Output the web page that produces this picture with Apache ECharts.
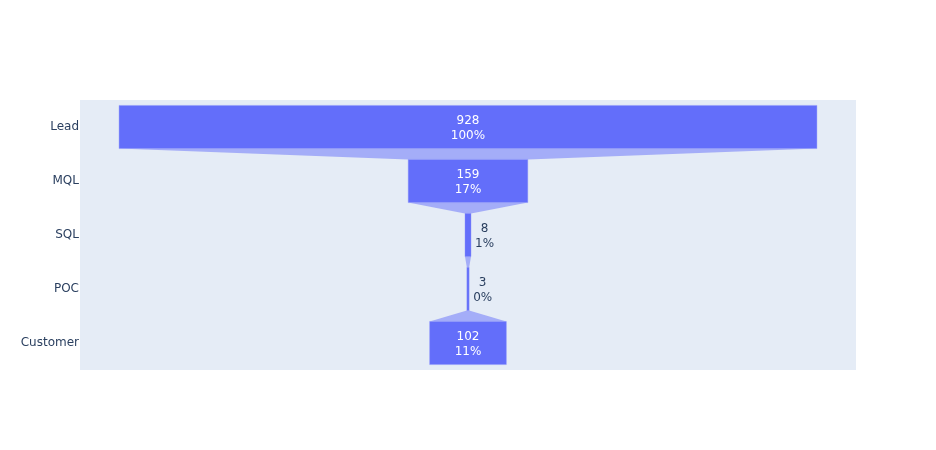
<!DOCTYPE html>
<html><head><meta charset="utf-8">
<script src="https://cdn.jsdelivr.net/npm/echarts@6/dist/echarts.min.js"></script>
<style>html,body{margin:0;padding:0;background:#fff}#c{width:936px;height:450px}</style>
</head><body><div id="c"></div>
<script>
const stages = ['Lead', 'MQL', 'SQL', 'POC', 'Customer'];
const values = [928, 159, 8, 3, 102];

const FONT = '"DejaVu Sans", Verdana, sans-serif';
const BAR = '#636efa';
const CONN = 'rgba(99,110,250,0.5)';
const mctx = document.createElement('canvas').getContext('2d');
mctx.font = '12px ' + FONT;
function tw(s){ return mctx.measureText(s).width; }

const initial = values[0];
const pct = values.map(v => Math.round(v / initial * 100) + '%');
const maxV = Math.max.apply(null, values);
const half = maxV / 2 * 1.112;

const chart = echarts.init(document.getElementById('c'), null, {renderer: 'canvas'});
chart.setOption({
  animation: false,
  backgroundColor: '#fff',
  grid: {left: 80, top: 100, width: 776, height: 270, show: true, backgroundColor: '#E5ECF6', borderWidth: 0, containLabel: false},
  xAxis: {type: 'value', min: -half, max: half, show: false},
  yAxis: {type: 'category', data: stages, inverse: true,
    axisLine: {show: false}, axisTick: {show: false}, splitLine: {show: false},
    axisLabel: {color: '#2a3f5f', fontSize: 12, fontFamily: FONT, margin: 1, padding: [1, 0, 0, 0]}},
  series: [{
    type: 'custom',
    data: values.map((v, i) => [i, v]),
    encode: {x: 1, y: 0},
    renderItem: function (params, api) {
      const i = api.value(0);
      const v = api.value(1);
      const h = api.size([0, 1])[1] * 0.8;
      const L = api.coord([-v / 2, i]);
      const R = api.coord([v / 2, i]);
      const cy = L[1];
      const children = [];
      if (i < values.length - 1) {
        const nv = values[i + 1];
        const nL = api.coord([-nv / 2, i + 1]);
        const nR = api.coord([nv / 2, i + 1]);
        children.push({type: 'polygon', shape: {points: [
          [L[0], cy + h / 2], [R[0], cy + h / 2], [nR[0], nL[1] - h / 2], [nL[0], nL[1] - h / 2]
        ]}, style: {fill: CONN}});
      }
      children.push({type: 'rect', shape: {x: L[0], y: cy - h / 2, width: R[0] - L[0], height: h},
        style: {fill: BAR, stroke: 'rgba(140,148,252,0.8)', lineWidth: 0.5}});
      const line1 = String(v), line2 = pct[i];
      const w = Math.max(tw(line1), tw(line2));
      const inside = (R[0] - L[0]) > w + 6;
      const tx = inside ? (L[0] + R[0]) / 2 : R[0] + 4 + w / 2;
      children.push({type: 'text', x: tx, y: cy + 1, style: {
        text: line1 + '\n' + line2, fill: inside ? '#ffffff' : '#2a3f5f',
        font: '12px ' + FONT, align: 'center', verticalAlign: 'middle', lineHeight: 15
      }});
      return {type: 'group', children: children};
    }
  }]
});
</script></body></html>
